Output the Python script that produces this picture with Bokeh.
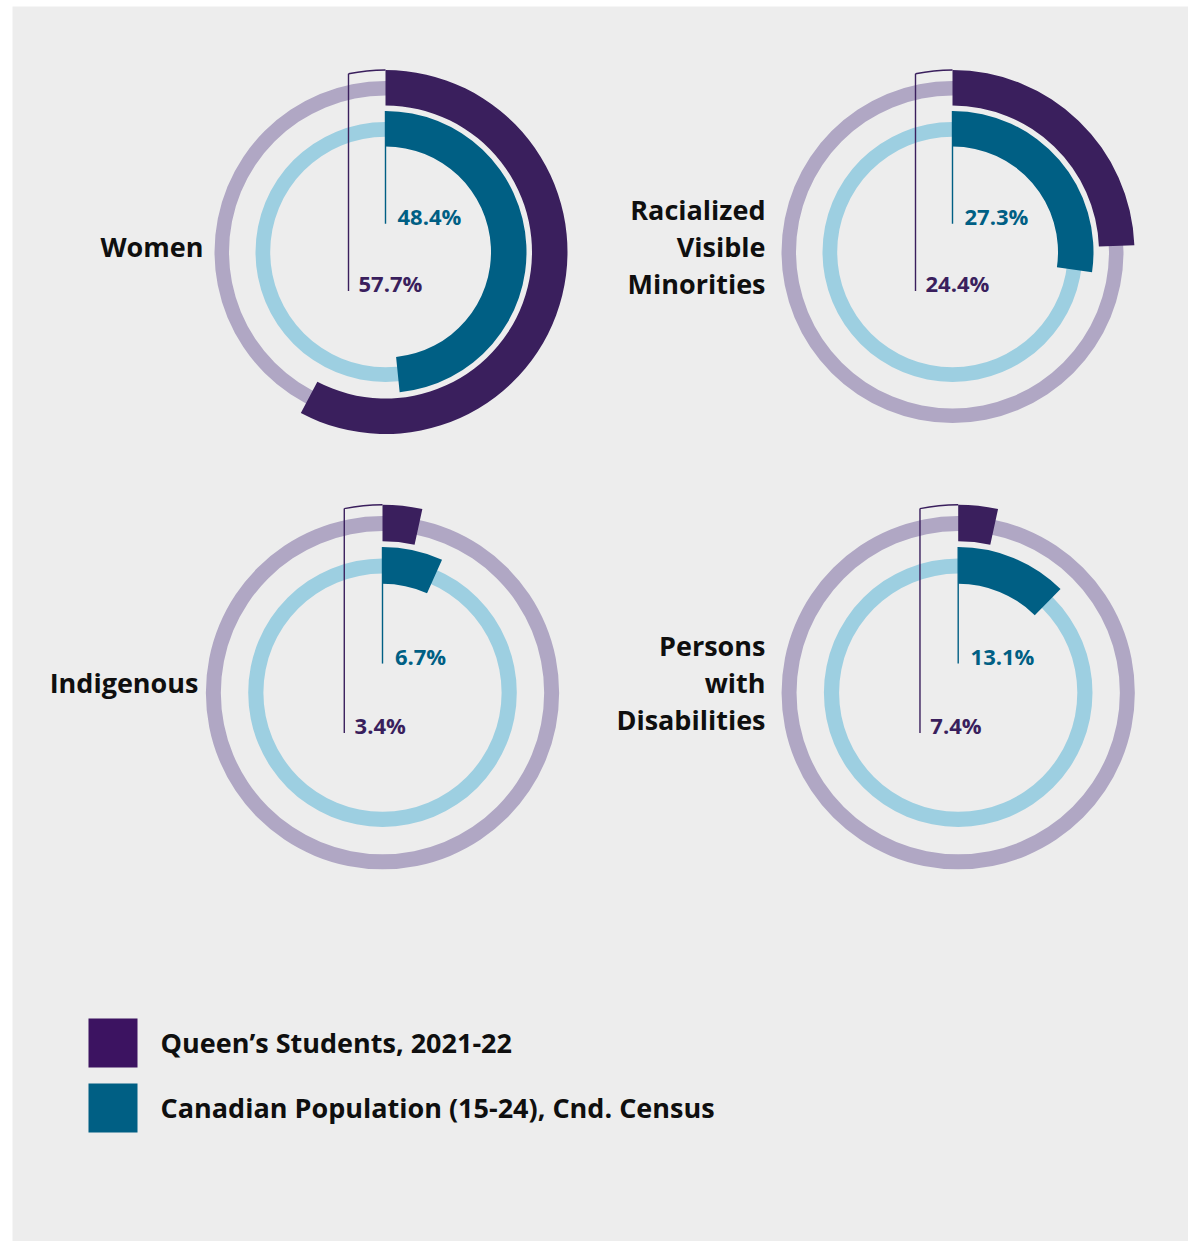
import math
from bokeh.plotting import figure
from bokeh.models import Range1d, ColumnDataSource
from bokeh.core.properties import value
from bokeh.embed import file_html
from bokeh.resources import INLINE

# ---------------- data ----------------
categories = ["Women", "Racialized Visible Minorities", "Indigenous", "Persons with Disabilities"]
category_lines = [["Women"], ["Racialized", "Visible", "Minorities"], ["Indigenous"], ["Persons", "with", "Disabilities"]]
queens_pct = [57.7, 24.4, 3.4, 7.4]          # printed labels
census_pct = [48.4, 27.3, 6.7, 13.1]         # printed labels
queens_arc_pct = [57.7, 24.4, 3.4, 3.4]      # arc lengths as drawn in the picture
census_arc_pct = [48.4, 27.3, 6.7, 12.4]     # arc lengths as drawn in the picture
series_names = ["Queen\u2019s Students, 2021-22", "Canadian Population (15-24), Cnd. Census"]

# ---------------- style / layout ----------------
PURPLE = "#3A1F5D"
TEAL = "#005F84"
LPURPLE = "#B0A7C4"
LBLUE = "#9DCFE1"
BG = "#EDEDED"
LEG_PURPLE = "#3C1361"
TXT = "#0F0F0F"
FONT = value("Open Sans")

W, H = 1188, 1241
centers = [(385, 251.5), (952, 251.5), (382, 692.2), (957.7, 692.2)]
scales = [1.0, 1.0, 1.033, 1.033]
label_right = [203, 765, 198, 765]
label_mid_base = [256, 256, 691.5, 691.5]
LINE_STEP = 37
VAL_FS, CAT_FS = 22, 27
VAL_SHIFT, CAT_SHIFT = 8, 10   # baseline correction for svg text

p = figure(width=W, height=H, x_range=Range1d(0, W), y_range=Range1d(-H, 0),
           output_backend="svg", toolbar_location=None, min_border=0,
           x_axis_location=None, y_axis_location=None)
p.grid.visible = False
p.outline_line_color = None
p.background_fill_color = "white"
p.border_fill_color = "white"

# panel background
p.quad(left=[12], right=[W], top=[-6], bottom=[-H], fill_color=BG, line_color=None)

def Y(y):
    return -y

for i in range(len(categories)):
    cx, cy = centers[i]
    s = scales[i]
    # background rings
    p.annulus(x=[cx], y=[Y(cy)], inner_radius=156.5 * s, outer_radius=171 * s,
              fill_color=LPURPLE, line_color=None)
    p.annulus(x=[cx], y=[Y(cy)], inner_radius=115.3 * s, outer_radius=130 * s,
              fill_color=LBLUE, line_color=None)
    # value arcs
    q_end = math.pi / 2 - 2 * math.pi * queens_arc_pct[i] / 100
    c_end = math.pi / 2 - 2 * math.pi * census_arc_pct[i] / 100
    p.annular_wedge(x=[cx], y=[Y(cy)], inner_radius=146.5 * s, outer_radius=182 * s,
                    start_angle=math.pi / 2, end_angle=q_end, direction="clock",
                    fill_color=PURPLE, line_color=None)
    p.annular_wedge(x=[cx], y=[Y(cy)], inner_radius=105.5 * s, outer_radius=141 * s,
                    start_angle=math.pi / 2, end_angle=c_end, direction="clock",
                    fill_color=TEAL, line_color=None)
    # purple bracket leader
    R = 182 * s
    off = 37 * s
    p.arc(x=[cx], y=[Y(cy)], radius=R, start_angle=math.pi / 2,
          end_angle=math.pi / 2 + math.asin(off / R), direction="anticlock",
          line_color=PURPLE, line_width=1.4)
    top_y = cy - math.sqrt(R * R - off * off)
    p.segment(x0=[cx - off], y0=[Y(top_y)], x1=[cx - off], y1=[Y(cy + 39 * s)],
              line_color=PURPLE, line_width=1.4)
    # teal leader
    p.segment(x0=[cx], y0=[Y(cy - 141 * s)], x1=[cx], y1=[Y(cy - 28.2 * s)],
              line_color=TEAL, line_width=1.4)
    # value labels
    p.text(x=[cx + 12 * s], y=[Y(cy - 28.2 * s - VAL_SHIFT)], text=[f"{census_pct[i]:.1f}%"],
           text_font=FONT, text_font_style="bold", text_font_size=f"{VAL_FS}px",
           text_color=TEAL, text_align="left", text_baseline="alphabetic")
    p.text(x=[cx - off + 10 * s], y=[Y(cy + 39 * s - VAL_SHIFT)], text=[f"{queens_pct[i]:.1f}%"],
           text_font=FONT, text_font_style="bold", text_font_size=f"{VAL_FS}px",
           text_color=PURPLE, text_align="left", text_baseline="alphabetic")
    # category label
    lines = category_lines[i]
    n = len(lines)
    xs, ys = [], []
    for k, _ in enumerate(lines):
        xs.append(label_right[i])
        ys.append(Y(label_mid_base[i] + (k - (n - 1) / 2) * LINE_STEP - CAT_SHIFT))
    src = ColumnDataSource(dict(x=xs, y=ys, t=lines))
    p.text(x="x", y="y", text="t", source=src, text_font=FONT, text_font_style="bold",
           text_font_size=f"{CAT_FS}px", text_color=TXT, text_align="right",
           text_baseline="alphabetic")

# legend
leg_colors = [LEG_PURPLE, TEAL]
leg_top = [1018, 1083]
for j, name in enumerate(series_names):
    p.quad(left=[88], right=[137], top=[Y(leg_top[j])], bottom=[Y(leg_top[j] + 49)],
           fill_color=leg_colors[j], line_color=None)
    p.text(x=[160], y=[Y(leg_top[j] + 34 - CAT_SHIFT)], text=[name], text_font=FONT,
           text_font_style="bold", text_font_size=f"{CAT_FS}px", text_color=TXT,
           text_align="left", text_baseline="alphabetic")

open("out.html", "w").write(file_html(p, INLINE, "chart"))
